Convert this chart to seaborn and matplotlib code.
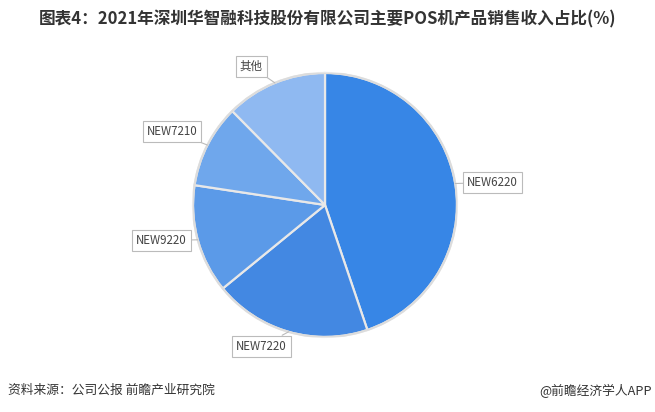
import numpy as np
import matplotlib
matplotlib.use("Agg")
import matplotlib.pyplot as plt
import seaborn as sns

sns.set_style("white")
plt.rcParams['font.family'] = ['Noto Sans CJK SC', 'DejaVu Sans']

# data (%)
products = ['NEW6220', 'NEW7220', 'NEW9220', 'NEW7210', '其他']
shares = [44.8, 19.3, 13.3, 10.2, 12.4]
colors = ['#3786E6', '#4388E2', '#5B9AE8', '#6FA7EC', '#8FB9F1']

# label box centres (data units, pie radius = 1)
label_pos = [(1.27, 0.17), (-0.48, -1.07), (-1.24, -0.27), (-1.16, 0.56), (-0.56, 1.05)]

fig = plt.figure(figsize=(6.55, 4.12), dpi=100)
ax = fig.add_axes([0.2947, 0.182, 0.403, 0.641])

wedges, _ = ax.pie(shares, colors=colors, startangle=90, counterclock=False,
                   radius=1,
                   wedgeprops=dict(edgecolor='#E8E8E8', linewidth=1.6))
# light outer ring
ax.add_patch(plt.Circle((0, 0), 1.0, fill=False, edgecolor='#DCDCDC', linewidth=1.5))

for w, name, (tx, ty) in zip(wedges, products, label_pos):
    mid = np.deg2rad((w.theta1 + w.theta2) / 2)
    ex, ey = np.cos(mid), np.sin(mid)
    ax.annotate(name, xy=(ex, ey), xytext=(tx, ty), ha='center', va='center',
                fontsize=8.3, color='#444444',
                bbox=dict(boxstyle='square,pad=0.35', fc='white', ec='#BBBBBB', lw=0.8),
                arrowprops=dict(arrowstyle='-', color='#BBBBBB', lw=0.8,
                                shrinkA=0, shrinkB=0))

ax.set_xlim(-1, 1)
ax.set_ylim(-1, 1)
ax.set_aspect('equal')
ax.axis('off')

fig.text(0.5, 0.952, '图表4：2021年深圳华智融科技股份有限公司主要POS机产品销售收入占比(%)',
         ha='center', va='center', fontsize=12, fontweight='bold', color='#333333')
fig.text(0.012, 0.052, '资料来源：公司公报 前瞻产业研究院', ha='left', va='center',
         fontsize=9.2, color='#333333')
fig.text(0.995, 0.052, '@前瞻经济学人APP', ha='right', va='center',
         fontsize=9.2, color='#333333')

plt.savefig('out.png', dpi=100)
